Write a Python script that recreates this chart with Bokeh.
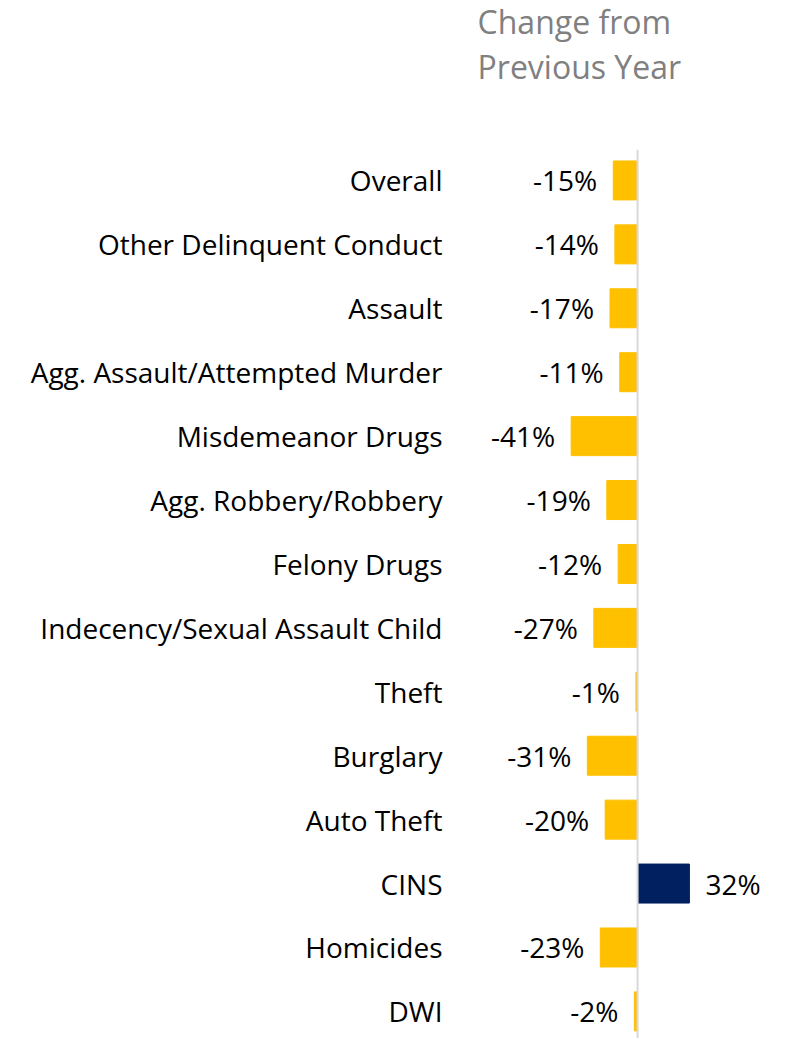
from bokeh.plotting import figure
from bokeh.layouts import column
from bokeh.models import Range1d, FixedTicker, Span, ColumnDataSource
from bokeh.core.properties import value
from bokeh.embed import file_html
from bokeh.resources import INLINE

categories = ["Overall", "Other Delinquent Conduct", "Assault", "Agg. Assault/Attempted Murder",
              "Misdemeanor Drugs", "Agg. Robbery/Robbery", "Felony Drugs",
              "Indecency/Sexual Assault Child", "Theft", "Burglary", "Auto Theft", "CINS",
              "Homicides", "DWI"]
change_pct = [-15, -14, -17, -11, -41, -19, -12, -27, -1, -31, -20, 32, -23, -2]
title_lines = ["Change from", "Previous Year"]

FONT = "Open Sans"
NEG_COLOR = "#FFC000"
POS_COLOR = "#002060"

n = len(categories)
ypos = [n - 1 - i for i in range(n)]
colors = [POS_COLOR if v > 0 else NEG_COLOR for v in change_pct]
labels = [f"{v}%" for v in change_pct]

src = ColumnDataSource(dict(y=ypos, v=change_pct, color=colors, label=labels,
                            align=["left" if v > 0 else "right" for v in change_pct],
                            xoff=[16 if v > 0 else -16 for v in change_pct]))

xr = Range1d(-113, 94.4)

# ---- title strip ----
TITLE_H = 149
pt = figure(width=790, height=TITLE_H, output_backend="svg", toolbar_location=None,
            x_range=xr, y_range=Range1d(0, TITLE_H),
            min_border_left=454, min_border_right=0, min_border_bottom=0, min_border_top=0)
pt.text(x=[0, 0], y=[TITLE_H - 21, TITLE_H - 66], text=title_lines, x_offset=-160,
        text_align="left", text_baseline="middle", text_font=value(FONT),
        text_font_size="32px", text_color="#808080")
pt.axis.visible = False
pt.grid.visible = False
pt.outline_line_color = None

# ---- main bars ----
top = n - 1 + 0.484
p = figure(width=790, height=889, output_backend="svg", toolbar_location=None,
           x_range=xr, y_range=Range1d(top - 889 / 63.92, top),
           min_border_left=454, min_border_right=0, min_border_bottom=0, min_border_top=0)

p.hbar(y="y", left=0, right="v", height=0.61, color="color", source=src)
p.text(x="v", y="y", text="label", x_offset="xoff", text_align="align", text_baseline="middle",
       text_font=value(FONT), text_font_size="28px", text_color="#000000", source=src)

p.add_layout(Span(location=0, dimension="height", line_color="#D9D9D9", line_width=2))

p.xaxis.visible = False
p.grid.visible = False
p.outline_line_color = None
p.yaxis.ticker = FixedTicker(ticks=ypos)
p.yaxis.major_label_overrides = {y: c for y, c in zip(ypos, categories)}
p.yaxis.axis_line_color = None
p.yaxis.major_tick_line_color = None
p.yaxis.minor_tick_line_color = None
p.yaxis.major_label_standoff = 6
p.yaxis.major_label_text_font = FONT
p.yaxis.major_label_text_font_size = "28px"
p.yaxis.major_label_text_color = "#000000"

layout = column(pt, p, spacing=0)
open("out.html", "w").write(file_html(layout, INLINE))
